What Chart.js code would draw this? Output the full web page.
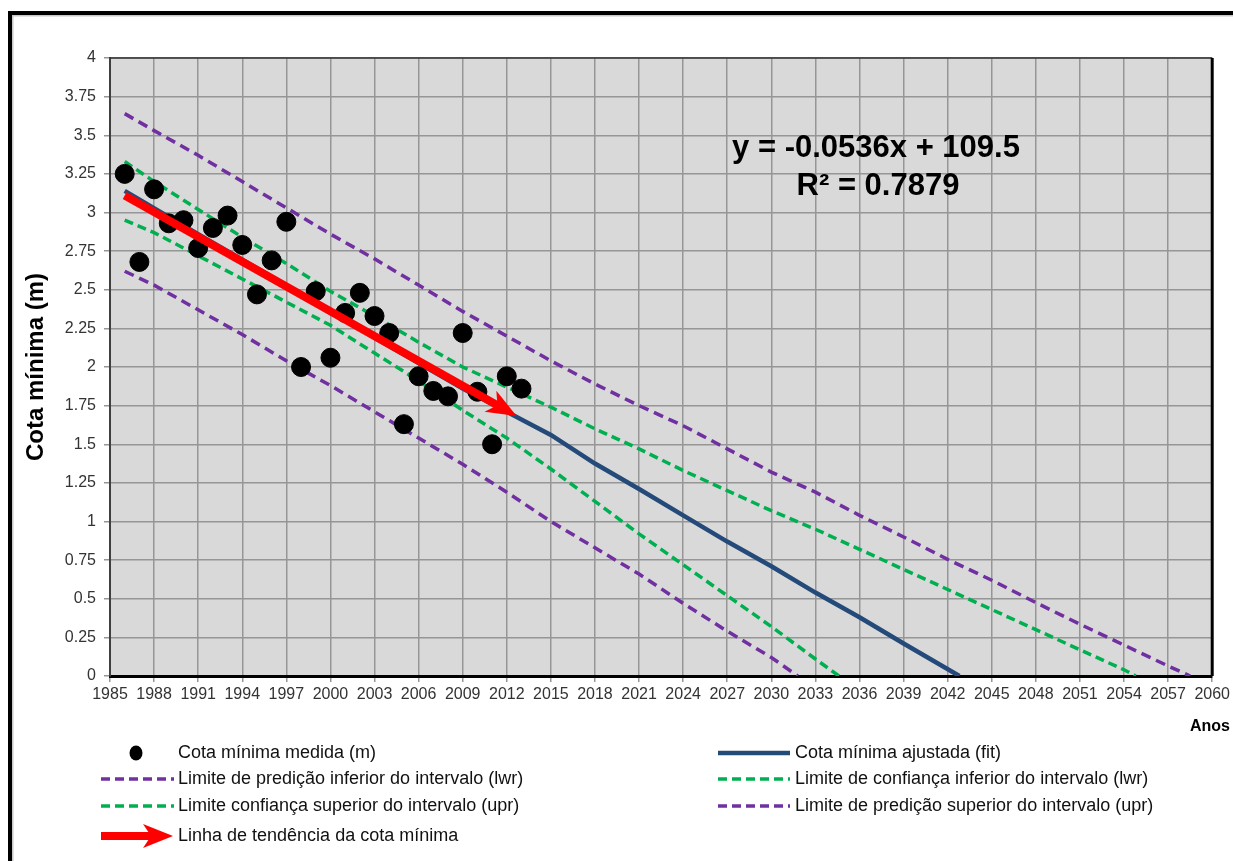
<!DOCTYPE html>
<html>
<head>
<meta charset="utf-8">
<script src="https://cdn.jsdelivr.net/npm/chart.js@4.4.1/dist/chart.umd.min.js"></script>
<style>
  html, body { margin: 0; padding: 0; background: #fff; }
</style>
</head>
<body>
<canvas id="my-canvas" width="1233" height="861"></canvas>
<script>
// medições (pontos pretos)
const anos = [1986, 1987, 1988, 1989, 1990, 1991, 1992, 1993, 1994, 1995, 1996, 1997, 1998, 1999,
              2000, 2001, 2002, 2003, 2004, 2005, 2006, 2007, 2008, 2009, 2010, 2011, 2012, 2013];
const cotaMedida = [3.25, 2.68, 3.15, 2.93, 2.95, 2.77, 2.90, 2.98, 2.79, 2.47, 2.69, 2.94, 2.00, 2.49,
                    2.06, 2.35, 2.48, 2.33, 2.22, 1.63, 1.94, 1.845, 1.81, 2.22, 1.84, 1.50, 1.94, 1.86];

// cota ajustada (fit)
const anosAjuste = [1986, 1991, 1997, 2003, 2009, 2015, 2018, 2021, 2024, 2027, 2030, 2033, 2036, 2039, 2042.8];
const cotaAjustada = [3.14, 2.86, 2.53, 2.19, 1.86, 1.56, 1.375, 1.21, 1.04, 0.87, 0.71, 0.54, 0.38, 0.21, 0];

// limites de predição
const anosPredInf = [1986, 1988, 1991, 1994, 1997, 2000, 2003, 2006, 2009, 2012, 2015, 2018, 2021, 2024, 2027, 2030, 2031.8];
const predInf = [2.62, 2.53, 2.37, 2.21, 2.04, 1.88, 1.71, 1.54, 1.37, 1.19, 1.00, 0.83, 0.66, 0.47, 0.29, 0.12, 0];
const anosPredSup = [1986, 1988, 1991, 1994, 1997, 2000, 2003, 2006, 2009, 2012, 2015, 2018, 2021, 2024, 2027,
                     2030, 2033, 2036, 2039, 2042, 2045, 2048, 2051, 2054, 2057, 2058.5];
const predSup = [3.64, 3.53, 3.37, 3.20, 3.03, 2.86, 2.70, 2.53, 2.36, 2.20, 2.04, 1.89, 1.75, 1.62, 1.47,
                 1.32, 1.19, 1.04, 0.90, 0.755, 0.62, 0.475, 0.335, 0.20, 0.065, 0];

// limites de confiança
const anosConfInf = [1986, 1988, 1991, 1994, 1997, 2000, 2003, 2006, 2009, 2012, 2015, 2018, 2021, 2024, 2027, 2030, 2033, 2034.6];
const confInf = [2.95, 2.87, 2.72, 2.57, 2.42, 2.27, 2.09, 1.91, 1.72, 1.54, 1.34, 1.13, 0.92, 0.72, 0.52, 0.32, 0.11, 0];
const anosConfSup = [1986, 1988, 1991, 1994, 1997, 2000, 2003, 2006, 2009, 2012, 2015, 2018, 2021, 2024, 2027,
                     2030, 2033, 2036, 2039, 2042, 2045, 2048, 2051, 2054, 2054.8];
const confSup = [3.33, 3.20, 3.02, 2.84, 2.67, 2.49, 2.33, 2.16, 2.00, 1.87, 1.74, 1.60, 1.47, 1.33, 1.20,
                 1.07, 0.95, 0.82, 0.69, 0.56, 0.43, 0.30, 0.17, 0.04, 0];

// linha de tendência (seta vermelha)
const anosTendencia = [1986, 2011.6];
const cotaTendencia = [3.11, 1.74];

const equacao = 'y = -0.0536x + 109.5';
const r2 = 'R² = 0.7879';

const AZUL = '#244a7a', VERDE = '#00b050', ROXO = '#7030a0', VERMELHO = '#ff0000';
const FONTE = "'Liberation Sans', Arial, sans-serif";

function pts(xs, ys) {
  return xs.map((x, i) => ({ x: x, y: ys[i] }));
}

function arrowHead(ctx, x0, y0, x1, y1) {
  const len = Math.hypot(x1 - x0, y1 - y0);
  const ux = (x1 - x0) / len, uy = (y1 - y0) / len;
  const nx = -uy, ny = ux;
  ctx.beginPath();
  ctx.moveTo(x1 + ux * 18, y1 + uy * 18);
  ctx.lineTo(x1 - ux * 12 + nx * 12, y1 - uy * 12 + ny * 12);
  ctx.lineTo(x1 - ux * 4, y1 - uy * 4);
  ctx.lineTo(x1 - ux * 12 - nx * 12, y1 - uy * 12 - ny * 12);
  ctx.closePath();
  ctx.fill();
}

function legendLine(ctx, x1, x2, y, color, width, dash) {
  ctx.save();
  ctx.strokeStyle = color;
  ctx.lineWidth = width;
  ctx.setLineDash(dash);
  ctx.beginPath();
  ctx.moveTo(x1, y);
  ctx.lineTo(x2, y);
  ctx.stroke();
  ctx.restore();
}

const extras = {
  id: 'extras',
  beforeDraw(chart) {
    const ctx = chart.ctx, a = chart.chartArea;
    ctx.save();
    ctx.fillStyle = '#fff';
    ctx.fillRect(0, 0, chart.width, chart.height);
    // moldura externa
    ctx.fillStyle = '#c8c8c8';
    ctx.fillRect(12, 15, chart.width - 12, 1.5);
    ctx.fillRect(12, 15, 1.5, chart.height - 15);
    ctx.fillStyle = '#000';
    ctx.fillRect(8, 11, chart.width - 8, 4);
    ctx.fillRect(8, 11, 4, chart.height - 11);
    // fundo da área do gráfico
    ctx.fillStyle = '#d9d9d9';
    ctx.fillRect(a.left, a.top, a.right - a.left, a.bottom - a.top);
    ctx.restore();
  },
  afterDatasetsDraw(chart) {
    const ctx = chart.ctx;
    const meta = chart.getDatasetMeta(0);
    const p0 = meta.data[0], p1 = meta.data[meta.data.length - 1];
    ctx.save();
    ctx.fillStyle = VERMELHO;
    arrowHead(ctx, p0.x, p0.y, p1.x, p1.y);
    ctx.restore();
  },
  afterDraw(chart) {
    const ctx = chart.ctx, a = chart.chartArea;
    ctx.save();
    // bordas superior e direita
    ctx.strokeStyle = '#333';
    ctx.lineWidth = 1.5;
    ctx.beginPath();
    ctx.moveTo(a.left, a.top);
    ctx.lineTo(a.right, a.top);
    ctx.stroke();
    ctx.strokeStyle = '#000';
    ctx.lineWidth = 3;
    ctx.beginPath();
    ctx.moveTo(a.right, a.top);
    ctx.lineTo(a.right, a.bottom);
    ctx.stroke();

    // equação
    ctx.fillStyle = '#000';
    ctx.textAlign = 'center';
    ctx.textBaseline = 'middle';
    ctx.font = 'bold 31px ' + FONTE;
    ctx.fillText(equacao, 876, 148);
    ctx.fillText(r2, 878, 186);

    // título do eixo y
    ctx.save();
    ctx.translate(36, 367);
    ctx.rotate(-Math.PI / 2);
    ctx.font = 'bold 24px ' + FONTE;
    ctx.fillText('Cota mínima (m)', 0, 0);
    ctx.restore();

    // título do eixo x
    ctx.textAlign = 'left';
    ctx.font = 'bold 16px ' + FONTE;
    ctx.fillText('Anos', 1190, 727);

    // legenda
    const rows = [753, 779, 806, 836];
    ctx.font = '18px ' + FONTE;
    ctx.textAlign = 'left';

    ctx.beginPath();
    ctx.fillStyle = '#000';
    ctx.ellipse(136, rows[0], 6.5, 7.5, 0, 0, Math.PI * 2);
    ctx.fill();
    legendLine(ctx, 101, 174, rows[1], ROXO, 3.5, [9, 5]);
    legendLine(ctx, 101, 174, rows[2], VERDE, 3.5, [9, 5]);
    legendLine(ctx, 101, 152, rows[3], VERMELHO, 8, []);
    ctx.fillStyle = VERMELHO;
    arrowHead(ctx, 100, rows[3], 155, rows[3]);

    legendLine(ctx, 718, 790, rows[0], AZUL, 4.5, []);
    legendLine(ctx, 718, 790, rows[1], VERDE, 3.5, [9, 5]);
    legendLine(ctx, 718, 790, rows[2], ROXO, 3.5, [9, 5]);

    ctx.fillStyle = '#111';
    ctx.fillText('Cota mínima medida (m)', 178, rows[0]);
    ctx.fillText('Limite de predição inferior do intervalo (lwr)', 178, rows[1]);
    ctx.fillText('Limite confiança superior do intervalo (upr)', 178, rows[2]);
    ctx.fillText('Linha de tendência da cota mínima', 178, rows[3]);
    ctx.fillText('Cota mínima ajustada (fit)', 795, rows[0]);
    ctx.fillText('Limite de confiança inferior do intervalo (lwr)', 795, rows[1]);
    ctx.fillText('Limite de predição superior do intervalo (upr)', 795, rows[2]);
    ctx.restore();
  }
};

const ctx = document.getElementById('my-canvas').getContext('2d');
const chart = new Chart(ctx, {
  type: 'scatter',
  data: {
    datasets: [
      {
        label: 'Linha de tendência da cota mínima',
        type: 'line',
        data: pts(anosTendencia, cotaTendencia),
        borderColor: VERMELHO,
        borderWidth: 8,
        pointRadius: 0,
        order: 0
      },
      {
        label: 'Cota mínima medida (m)',
        data: pts(anos, cotaMedida),
        backgroundColor: '#000',
        borderColor: '#000',
        pointRadius: 9.5,
        order: 1
      },
      {
        label: 'Cota mínima ajustada (fit)',
        type: 'line',
        data: pts(anosAjuste, cotaAjustada),
        borderColor: AZUL,
        borderWidth: 4.5,
        pointRadius: 0,
        order: 2
      },
      {
        label: 'Limite de confiança inferior do intervalo (lwr)',
        type: 'line',
        data: pts(anosConfInf, confInf),
        borderColor: VERDE,
        borderWidth: 3.5,
        borderDash: [9, 5],
        pointRadius: 0,
        order: 3
      },
      {
        label: 'Limite confiança superior do intervalo (upr)',
        type: 'line',
        data: pts(anosConfSup, confSup),
        borderColor: VERDE,
        borderWidth: 3.5,
        borderDash: [9, 5],
        pointRadius: 0,
        order: 3
      },
      {
        label: 'Limite de predição inferior do intervalo (lwr)',
        type: 'line',
        data: pts(anosPredInf, predInf),
        borderColor: ROXO,
        borderWidth: 3.5,
        borderDash: [10, 6],
        pointRadius: 0,
        order: 4
      },
      {
        label: 'Limite de predição superior do intervalo (upr)',
        type: 'line',
        data: pts(anosPredSup, predSup),
        borderColor: ROXO,
        borderWidth: 3.5,
        borderDash: [10, 6],
        pointRadius: 0,
        order: 4
      }
    ]
  },
  options: {
    responsive: false,
    animation: false,
    layout: { padding: { top: 58, right: 20, left: 0, bottom: 0 } },
    plugins: {
      legend: { display: false },
      tooltip: { enabled: false }
    },
    scales: {
      x: {
        type: 'linear',
        min: 1985,
        max: 2060,
        afterFit: s => { s.height = 185; },
        ticks: {
          stepSize: 3,
          autoSkip: false,
          maxRotation: 0,
          padding: 3,
          color: '#333',
          font: { family: FONTE, size: 16 },
          callback: v => String(v)
        },
        grid: { color: '#969696', lineWidth: 1.5, tickLength: 6 },
        border: { color: '#000', width: 3 }
      },
      y: {
        min: 0,
        max: 4,
        afterFit: s => { s.width = 110; },
        ticks: {
          stepSize: 0.25,
          autoSkip: false,
          padding: 8,
          color: '#333',
          font: { family: FONTE, size: 16 },
          callback: v => String(v)
        },
        grid: { color: '#969696', lineWidth: 1.5, tickLength: 6 },
        border: { color: '#404040', width: 2 }
      }
    }
  },
  plugins: [extras]
});
</script>
</body>
</html>
